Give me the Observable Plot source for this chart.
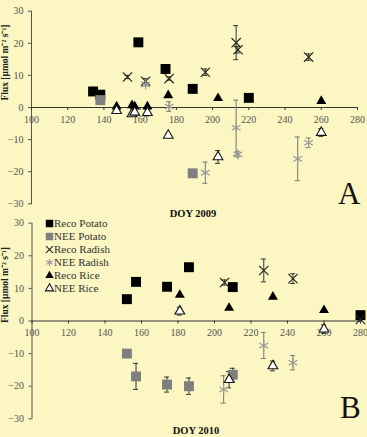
<!DOCTYPE html>
<html><head><meta charset="utf-8">
<script src="https://cdn.jsdelivr.net/npm/d3@7"></script>
<script src="https://cdn.jsdelivr.net/npm/@observablehq/plot@0.6"></script>
<style>
html,body{margin:0;padding:0;background:#fbf6c2;}
#wrap{position:relative;width:367px;height:437px;overflow:hidden;background:#fbf6c2;font-family:"Liberation Serif",serif;}
#wrap svg{position:absolute;left:0;}
.t{position:absolute;line-height:1;white-space:nowrap;color:#111;}
</style></head><body><div id="wrap"></div>
<script>
const xTicks = [100,120,140,160,180,200,220,240,260,280];
const yTicks = [-30,-20,-10,0,10,20,30];
const seriesNames = ["Reco Potato","NEE Potato","Reco Radish","NEE Radish","Reco Rice","NEE Rice"];
const yLabel = "Flux [μmol m⁻² s⁻¹]";

// ---- 2009 (panel A) ----
const doyRecoPotato09 = [134, 138, 159, 174, 189, 220];
const fluxRecoPotato09 = [5, 4, 20.3, 12, 5.8, 3];
const doyNeePotato09 = [138, 189];
const fluxNeePotato09 = [2.3, -20.5];
const doyRecoRadish09 = [153, 163, 176, 196, 213, 214, 253];
const fluxRecoRadish09 = [9.5, 8.2, 9, 11, 20.2, 18, 15.7];
const errRecoRadish09 = [0.5, 0.8, 0.5, 1, 5.3, 1, 1];
const doyNeeRadish09 = [163, 176, 196, 213, 214, 247, 253];
const fluxNeeRadish09 = [7.2, 0.3, -20.3, -6.3, -14.6, -16, -11];
const errNeeRadish09 = [0.5, 1.5, 3.3, 8.6, 0.8, 6.8, 1.5];
const doyRecoRice09 = [147, 155.5, 157, 164, 175.5, 203, 260];
const fluxRecoRice09 = [0.3, 0.7, 0.3, 0.3, 3.8, 2.9, 2];
const doyNeeRice09 = [147, 155.5, 157, 164, 175.5, 203, 260];
const fluxNeeRice09 = [-1, -2, -1.5, -1.6, -8.7, -15.4, -7.8];
const errNeeRice09 = [0.3, 0.5, 0.5, 1, 0.5, 2, 1.2];

// ---- 2010 (panel B) ----
const doyRecoPotato10 = [152, 157, 174, 186, 210, 280];
const fluxRecoPotato10 = [6.7, 12, 10.5, 16.5, 10.4, 1.8];
const doyNeePotato10 = [152, 157, 174, 186, 210];
const fluxNeePotato10 = [-10, -17, -19.5, -20, -16.5];
const errNeePotato10 = [0.5, 4, 2.3, 2.5, 2];
const doyRecoRadish10 = [205.5, 227, 243, 280];
const fluxRecoRadish10 = [11.8, 15.5, 13, 0.5];
const errRecoRadish10 = [0.8, 3.5, 1.5, 0.5];
const doyNeeRadish10 = [205, 227, 243];
const fluxNeeRadish10 = [-21, -7.5, -12.8];
const errNeeRadish10 = [4.2, 4, 2.2];
const doyRecoRice10 = [181, 208, 232, 260];
const fluxRecoRice10 = [8, 4, 7.4, 3.3];
const doyNeeRice10 = [181, 208, 232, 260];
const fluxNeeRice10 = [3, -18, -13.8, -2.5];
const errNeeRice10 = [1.2, 2.5, 1.5, 1.3];

const styles = {
  "Reco Potato": {symbol: "square", fill: "#000", stroke: "none", r: 5.6, lr: 4.2},
  "NEE Potato": {symbol: "square", fill: "#7f7f7f", stroke: "none", r: 5.6, lr: 4.2},
  "Reco Radish": {symbol: "times", fill: "none", stroke: "#222", r: 4.3, lr: 3.2, sw: 1.1},
  "NEE Radish": {symbol: "asterisk", fill: "none", stroke: "#9a9a9a", r: 4.8, lr: 3.4, sw: 1.2},
  "Reco Rice": {symbol: "triangle", fill: "#000", stroke: "none", r: 3.7, lr: 3.1},
  "NEE Rice": {symbol: "triangle", fill: "#fff", stroke: "#111", r: 3.6, lr: 3.0, sw: 1.1}
};

function rows(name, xs, ys, es) {
  return xs.map((x, i) => ({series: name, doy: x, flux: ys[i], err: es ? es[i] : 0}));
}

const data09 = [
  ...rows("Reco Potato", doyRecoPotato09, fluxRecoPotato09),
  ...rows("NEE Potato", doyNeePotato09, fluxNeePotato09),
  ...rows("Reco Radish", doyRecoRadish09, fluxRecoRadish09, errRecoRadish09),
  ...rows("NEE Radish", doyNeeRadish09, fluxNeeRadish09, errNeeRadish09),
  ...rows("Reco Rice", doyRecoRice09, fluxRecoRice09),
  ...rows("NEE Rice", doyNeeRice09, fluxNeeRice09, errNeeRice09)
];
const data10 = [
  ...rows("Reco Potato", doyRecoPotato10, fluxRecoPotato10),
  ...rows("NEE Potato", doyNeePotato10, fluxNeePotato10, errNeePotato10),
  ...rows("Reco Radish", doyRecoRadish10, fluxRecoRadish10, errRecoRadish10),
  ...rows("NEE Radish", doyNeeRadish10, fluxNeeRadish10, errNeeRadish10),
  ...rows("Reco Rice", doyRecoRice10, fluxRecoRice10),
  ...rows("NEE Rice", doyNeeRice10, fluxNeeRice10, errNeeRice10)
];

function panel(data, opts) {
  const errs = data.filter(d => d.err > 0);
  const errColor = d => d.series === "NEE Radish" ? "#777" : "#333";
  return Plot.plot({
    width: 367, height: opts.height,
    marginLeft: opts.ml, marginRight: opts.mr, marginTop: opts.mt, marginBottom: opts.mb,
    style: {fontFamily: "Liberation Serif, serif", fontSize: "10px", background: "transparent", color: "#555"},
    x: {domain: [100, 280], axis: null},
    y: {domain: [-30, 30], ticks: yTicks, tickSize: 3, tickPadding: 5, line: true, label: null},
    marks: [
      Plot.ruleY([0], {stroke: "#333", strokeWidth: 1.1}),
      Plot.ruleX(xTicks, {x: d => d, y1: 0, y2: 0, insetBottom: -3, stroke: "#333"}),
      Plot.text(xTicks, {x: d => d, y: 0, dy: 12, text: d => String(d), fill: "#555", fontSize: 10}),
      Plot.text([yLabel], {frameAnchor: "left", text: d => d, rotate: -90, dx: -27, dy: opts.ldy, fontWeight: "bold", fontSize: 9.5, fill: "#222"}),
      Plot.ruleX(errs, {x: "doy", y1: d => d.flux - d.err, y2: d => d.flux + d.err, stroke: errColor, strokeWidth: 1}),
      Plot.ruleY(errs, {y: d => d.flux + d.err, x1: "doy", x2: "doy", insetLeft: -2.5, insetRight: -2.5, stroke: errColor}),
      Plot.ruleY(errs, {y: d => d.flux - d.err, x1: "doy", x2: "doy", insetLeft: -2.5, insetRight: -2.5, stroke: errColor}),
      ...seriesNames.map(name => {
        const s = styles[name];
        return Plot.dot(data.filter(d => d.series === name), {
          x: "doy", y: "flux", symbol: s.symbol, fill: s.fill, stroke: s.stroke, r: s.r, strokeWidth: s.sw || 1
        });
      })
    ]
  });
}

const wrap = document.getElementById("wrap");

const svgA = panel(data09, {height: 220, ml: 31, mr: 10, mt: 10.7, mb: 16.7, ldy: -7});
svgA.style.top = "0px";
wrap.appendChild(svgA);

const svgB = panel(data10, {height: 222, ml: 31.5, mr: 7, mt: 7.7, mb: 18.7, ldy: 2});
svgB.style.top = "215px";
wrap.appendChild(svgB);

// legend (panel B, top-left)
const legend = Plot.plot({
  width: 80, height: 82, marginLeft: 9, marginRight: 0, marginTop: 8.3, marginBottom: 8.7,
  style: {fontFamily: "Liberation Serif, serif", background: "transparent"},
  x: {domain: [0, 1], axis: null},
  y: {type: "point", domain: seriesNames, axis: null, padding: 0},
  marks: [
    ...seriesNames.map(name => {
      const s = styles[name];
      return Plot.dot([name], {x: () => 0, y: d => d, symbol: s.symbol, fill: s.fill, stroke: s.stroke, r: s.lr, strokeWidth: s.sw || 1});
    }),
    Plot.text(seriesNames, {x: () => 0, y: d => d, text: d => d, textAnchor: "start", dx: 4.5, fontSize: 11, fill: "#333"})
  ]
});
legend.style.left = "40px";
legend.style.top = "215px";
wrap.appendChild(legend);

function addText(txt, css) {
  const d = document.createElement("div");
  d.className = "t";
  d.textContent = txt;
  Object.assign(d.style, css);
  wrap.appendChild(d);
}
addText("DOY 2009", {left: "193px", top: "209px", fontSize: "10.5px", fontWeight: "bold", transform: "translateX(-50%)"});
addText("DOY 2010", {left: "196px", top: "426px", fontSize: "10.5px", fontWeight: "bold", transform: "translateX(-50%)"});
addText("A", {left: "338px", top: "178px", fontSize: "31px"});
addText("B", {left: "340px", top: "392px", fontSize: "31px"});
</script></body></html>
